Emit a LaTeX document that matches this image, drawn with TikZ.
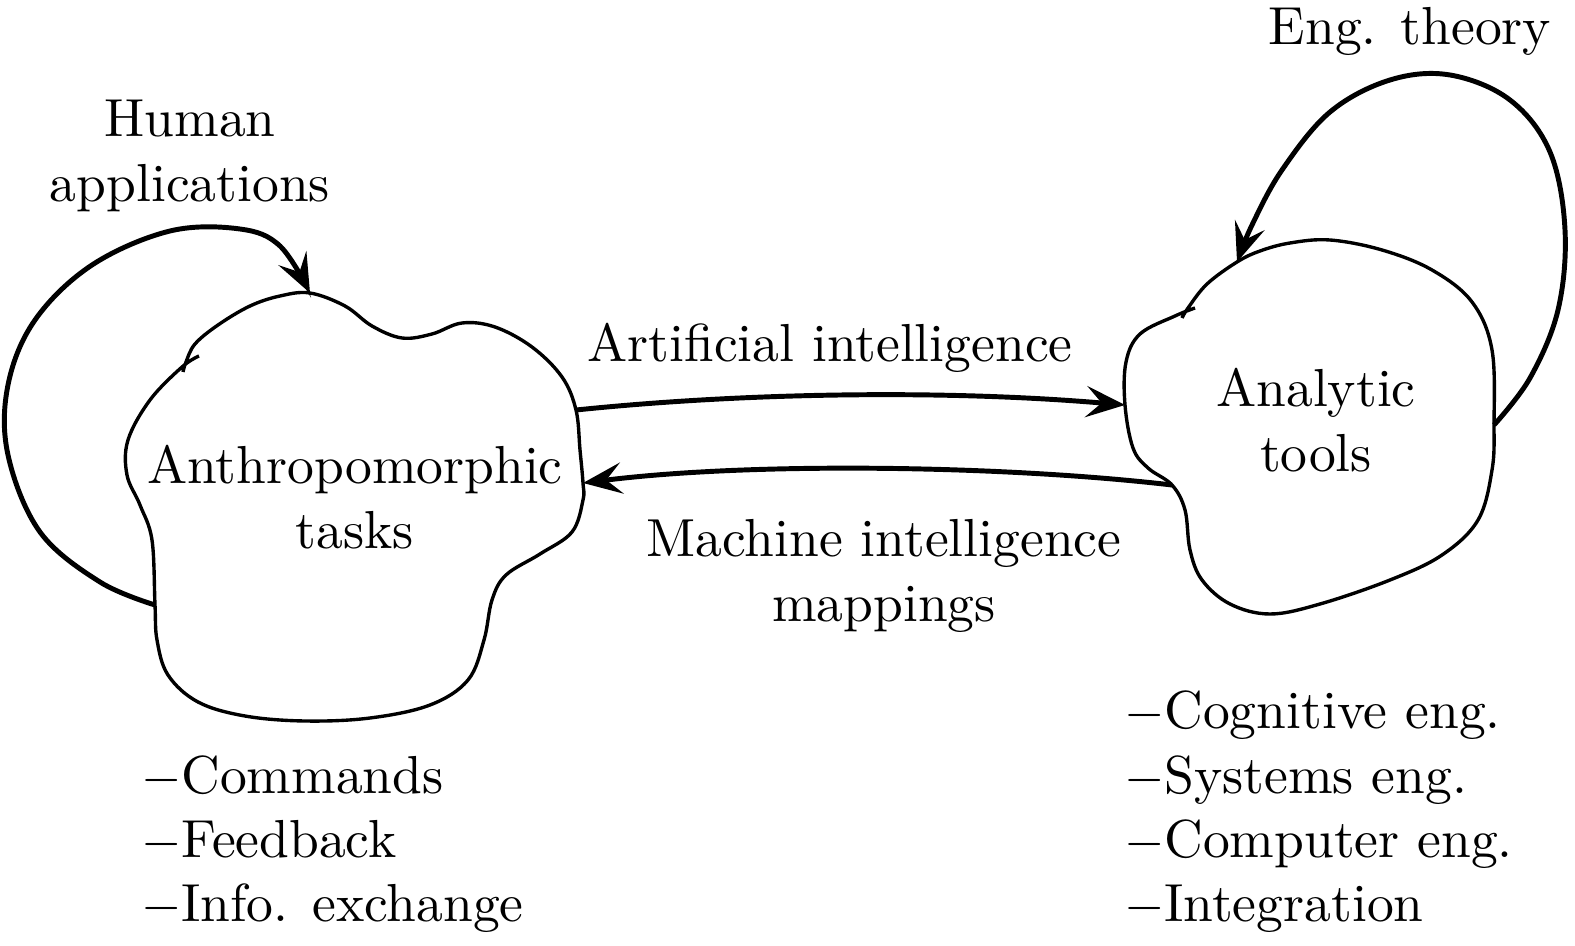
\documentclass[tikz,border=0pt]{standalone}
\usetikzlibrary{arrows.meta}
\begin{document}
\begin{tikzpicture}[x=0.19231pt,y=-0.19231pt,
  blob/.style={line width=0.65pt, line join=round},
  link/.style={line width=0.95pt, -{Stealth[length=7.5pt,width=6pt,inset=3pt]}},
  txt/.style={font=\fontsize{10.3}{12.5}\selectfont, inner sep=0pt, align=center}]
  \useasboundingbox (0,0) rectangle (1575,946);

  % 1. Define the contact points on the two blobs
  \coordinate (AtTop) at (310,293);
  \coordinate (AtLoop) at (155,605);
  \coordinate (AtOut) at (576,410);
  \coordinate (AtIn) at (583,483);
  \coordinate (ToTop) at (1237,262);
  \coordinate (ToLoop) at (1494,425);
  \coordinate (ToIn) at (1125,405);
  \coordinate (ToOut) at (1172,485);

  % 2. Draw the blobs (left: tasks, right: tools)
  \draw[blob] plot[smooth, tension=0.6] coordinates {(199,356) (182,367) (150,400)
    (128,440) (127,475) (140,505) (152,540) (AtLoop) (157,640) (168,675) (198,702)
    (245,716) (305,721) (370,718) (430,705) (468,680) (484,640) (492,600) (506,575)
    (540,554) (572,532) (583,500) (AtIn) (580,450) (AtOut) (562,377) (532,347)
    (495,327) (462,323) (432,334) (402,338) (372,326) (345,306) (AtTop) (280,296)
    (250,306) (218,325) (195,344) (186,362) (183,372)};
  \draw[blob] plot[smooth, tension=0.6] coordinates {(1195,308) (1175,316) (1140,334)
    (1126,362) (ToIn) (1133,448) (1148,468) (ToOut) (1185,510) (1190,550) (1202,580)
    (1230,604) (1270,614) (1320,604) (1390,580) (1442,555) (1478,520) (1492,470)
    (ToLoop) (1492,350) (1472,302) (1432,270) (1382,250) (1330,240) (1290,243)
    (1260,251) (ToTop) (1207,284) (1188,308) (1182,318)};

  % 3. Draw the loops and the mappings
  \draw[link] plot[smooth, tension=0.6] coordinates {(AtLoop) (100,582) (40,532)
    (8,455) (8,385) (35,320) (92,265) (170,231) (240,229) (280,246) (AtTop)};
  \draw[link] plot[smooth, tension=0.6] coordinates {(ToLoop) (1530,378) (1558,310)
    (1565,230) (1550,152) (1510,100) (1450,75) (1390,80) (1330,112) (1282,170)
    (1252,225) (ToTop)};
  \draw[link] (AtOut) .. controls (750,392) and (950,390) .. (ToIn);
  \draw[link] (ToOut) .. controls (1000,465) and (750,462) .. (AtIn);

  % 4. Labels
  \node[txt] (human) at (190,156) {Human\\applications};
  \node[txt, anchor=base] (engtheory) at (1410,45) {Eng. theory};
  \node[txt] (anthro) at (355,497) {Anthropomorphic\\tasks};
  \node[txt] (analytic) at (1316,420) {Analytic\\tools};
  \node[txt, anchor=base] (artificial) at (830,362) {Artificial intelligence};
  \node[txt] (machine) at (884,576) {Machine intelligence\\mappings};
  \foreach \entry [count=\i] in {Commands,Feedback,Info. exchange}
    \node[txt, anchor=base west] (task\i) at (140,729+64*\i) {$-$\entry};
  \foreach \entry [count=\i from 0] in {Cognitive eng.,Systems eng.,Computer eng.,Integration}
    \node[txt, anchor=base west] (tool\i) at (1123,729+64*\i) {$-$\entry};
\end{tikzpicture}
\end{document}
